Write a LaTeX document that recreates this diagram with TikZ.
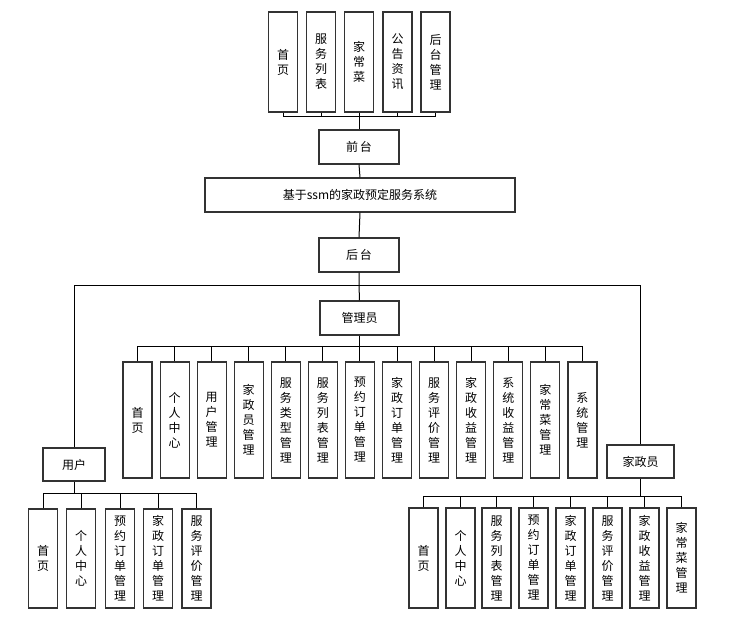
\documentclass[tikz,border=0pt]{standalone}
\usepackage{fontspec}
\newfontfamily\cjk{Noto Sans CJK SC}
\begin{document}
\begin{tikzpicture}[x=1pt,y=-1pt,
  box/.style={draw=black!80,line width=1.1pt,inner sep=0pt,align=center,
    font=\cjk\fontsize{12}{15}\selectfont,text=black},
  hbox/.style={box,minimum width=#1,minimum height=34},
  vb/.style={box,minimum width=29,minimum height=#1},
  link/.style={draw=black,line width=1pt}]
\useasboundingbox[fill=white] (0,0) rectangle (749,620);
% top
\node[vb=100] (t1) at (283,62) {首\\页};
\node[vb=100] (t2) at (321,62) {服\\务\\列\\表};
\node[vb=100] (t3) at (359,62) {家\\常\\菜};
\node[vb=100] (t4) at (397.5,62) {公\\告\\资\\讯};
\node[vb=100] (t5) at (435.5,62) {后\\台\\管\\理};
\node[hbox=80] (qt) at (359,147) {前\,台};
\node[hbox=310] (sys) at (360,195) {基于ssm的家政预定服务系统};
\node[hbox=80] (ht) at (359,255) {后\,台};
\node[hbox=79] (ad) at (359.5,318) {管理员};
\coordinate (b1) at (359,117);
\foreach \i in {1,...,5} \draw[link] (t\i.south) |- (b1);
\draw[link] (b1) -- (qt.north);
\draw[link] (qt.south) -- (sys.north);
\draw[link] (sys.south) -- (ht.north);
\coordinate (hb) at (359,285);
\draw[link] (ht.south) -- (hb) -- (ad.north);
% admin children
\foreach \t [count=\i] in {首\\页,个\\人\\中\\心,用\\户\\管\\理,家\\政\\员\\管\\理,服\\务\\类\\型\\管\\理,服\\务\\列\\表\\管\\理,预\\约\\订\\单\\管\\理,家\\政\\订\\单\\管\\理,服\\务\\评\\价\\管\\理,家\\政\\收\\益\\管\\理,系\\统\\收\\益\\管\\理,家\\常\\菜\\管\\理,系\\统\\管\\理}
  \node[vb=116] (a\i) at ({137.5+37.08*(\i-1)},420) {\t};
\coordinate (ab) at (359.5,346);
\draw[link] (ad.south) -- (ab);
\foreach \i in {1,...,13} \draw[link] (a\i.north) |- (ab);
% user
\node[box,minimum width=62,minimum height=33] (us) at (74,464.5) {用户};
\node[box,minimum width=67,minimum height=33] (jz) at (640.5,461.5) {家政员};
\draw[link] (us.north) |- (hb);
\draw[link] (jz.north) |- (hb);
\foreach \t/\x [count=\i] in {首\\页/43,个\\人\\中\\心/81,预\\约\\订\\单\\管\\理/120,家\\政\\订\\单\\管\\理/158,服\\务\\评\\价\\管\\理/196.5}
  \node[vb=99] (u\i) at (\x,558.5) {\t};
\coordinate (ub) at (74,493);
\draw[link] (us.south) -- (ub);
\foreach \i in {1,...,5} \draw[link] (u\i.north) |- (ub);
\foreach \t/\x [count=\i] in {首\\页/423.5,个\\人\\中\\心/460.5,服\\务\\列\\表\\管\\理/496.5,预\\约\\订\\单\\管\\理/533.5,家\\政\\订\\单\\管\\理/570.5,服\\务\\评\\价\\管\\理/607.5,家\\政\\收\\益\\管\\理/644.5,家\\常\\菜\\管\\理/681.5}
  \node[vb=100] (j\i) at (\x,558) {\t};
\coordinate (jb) at (640.5,496);
\draw[link] (jz.south) -- (jb);
\foreach \i in {1,...,8} \draw[link] (j\i.north) |- (jb);
\end{tikzpicture}
\end{document}
